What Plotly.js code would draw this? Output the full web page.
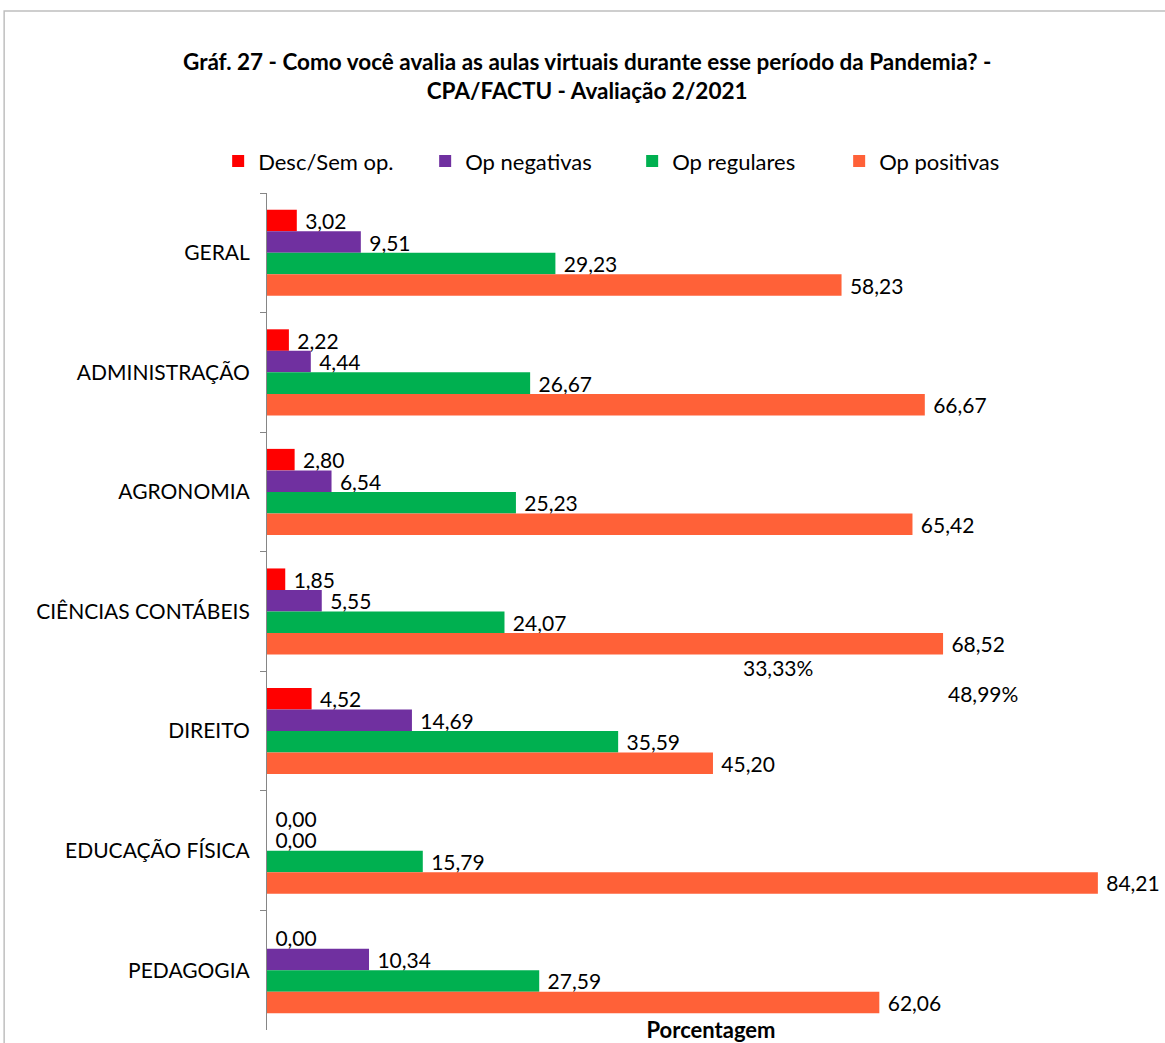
<!DOCTYPE html>
<html>
<head>
<meta charset="utf-8">
<script src="https://cdn.plot.ly/plotly-3.0.1.min.js"></script>
<style>html,body{margin:0;padding:0;background:#fff;}#chart{width:1165px;height:1043px;}</style>
</head>
<body>
<div id="chart"></div>
<script>
const categories = ["GERAL", "ADMINISTRAÇÃO", "AGRONOMIA", "CIÊNCIAS CONTÁBEIS", "DIREITO", "EDUCAÇÃO FÍSICA", "PEDAGOGIA"];
const descSemOp = [3.02, 2.22, 2.80, 1.85, 4.52, 0.00, 0.00];
const opNegativas = [9.51, 4.44, 6.54, 5.55, 14.69, 0.00, 10.34];
const opRegulares = [29.23, 26.67, 25.23, 24.07, 35.59, 15.79, 27.59];
const opPositivas = [58.23, 66.67, 65.42, 68.52, 45.20, 84.21, 62.06];
const seriesNames = ["Desc/Sem op.", "Op negativas", "Op regulares", "Op positivas"];
const seriesColors = ["#FF0000", "#7030A0", "#00B050", "#FF6138"];
const strayLabels = ["33,33%", "48,99%"];

const FONT = "Lato, 'Noto Sans', sans-serif";
const seriesValues = [descSemOp, opNegativas, opRegulares, opPositivas];

const traces = seriesValues.map((vals, i) => ({
  type: "bar",
  orientation: "h",
  name: seriesNames[i],
  y: categories,
  x: vals,
  marker: {color: seriesColors[i]},
  texttemplate: "\u00a0%{x:.2f}",
  textposition: "outside",
  textfont: {family: FONT, size: 21, color: "#000"},
  constraintext: "none",
  cliponaxis: false,
  hoverinfo: "x+name"
}));

const layout = {
  width: 1165,
  height: 1043,
  paper_bgcolor: "#fff",
  plot_bgcolor: "#fff",
  separators: ",.",
  font: {family: FONT, size: 21, color: "#000"},
  margin: {l: 267, r: 10, t: 193, b: 13, autoexpand: false},
  barmode: "group",
  bargap: 0.28,
  bargroupgap: 0,
  title: {
    text: "Gráf. 27 - Como você avalia as aulas virtuais durante esse período da Pandemia? -<br>CPA/FACTU - Avaliação 2/2021",
    font: {family: FONT, size: 22.5, color: "#000", weight: "bold"},
    x: 0.504, xanchor: "center",
    y: 0.933, yanchor: "top", yref: "container"
  },
  showlegend: true,
  legend: {
    orientation: "h",
    x: -0.055, xanchor: "left",
    y: 1.038, yanchor: "middle",
    font: {family: FONT, size: 22, color: "#000"},
    entrywidth: 162,
    traceorder: "normal"
  },
  xaxis: {
    range: [0, 90],
    showticklabels: false,
    showgrid: false,
    showline: false,
    zeroline: false,
    ticks: "",
    title: {text: "Porcentagem", font: {family: FONT, size: 22, color: "#000", weight: "bold"}, standoff: 0},
    automargin: false,
    fixedrange: true
  },
  yaxis: {
    type: "category",
    categoryorder: "array",
    categoryarray: categories,
    autorange: "reversed",
    showgrid: false,
    zeroline: false,
    showline: true,
    linecolor: "#868686",
    linewidth: 1,
    ticks: "outside",
    tickson: "boundaries",
    ticklen: 6,
    tickcolor: "#868686",
    tickfont: {family: FONT, size: 21, color: "#000"},
    ticklabelstandoff: 12,
    automargin: false,
    fixedrange: true
  },
  shapes: [{
    type: "rect", xref: "paper", yref: "paper",
    x0: -0.296, x1: 1.05, y0: -0.05, y1: 1.2174,
    line: {color: "#BFBFBF", width: 1.5}, fillcolor: "rgba(0,0,0,0)", layer: "above"
  }],
  annotations: [
    {text: strayLabels[0], xref: "paper", yref: "paper", x: 0.575, y: 0.4325, xanchor: "center", yanchor: "middle", showarrow: false, font: {family: FONT, size: 21, color: "#000"}},
    {text: strayLabels[1], xref: "paper", yref: "paper", x: 0.806, y: 0.4026, xanchor: "center", yanchor: "middle", showarrow: false, font: {family: FONT, size: 21, color: "#000"}}
  ]
};

Plotly.newPlot("chart", traces, layout, {displayModeBar: false, staticPlot: true});
</script>
</body>
</html>
